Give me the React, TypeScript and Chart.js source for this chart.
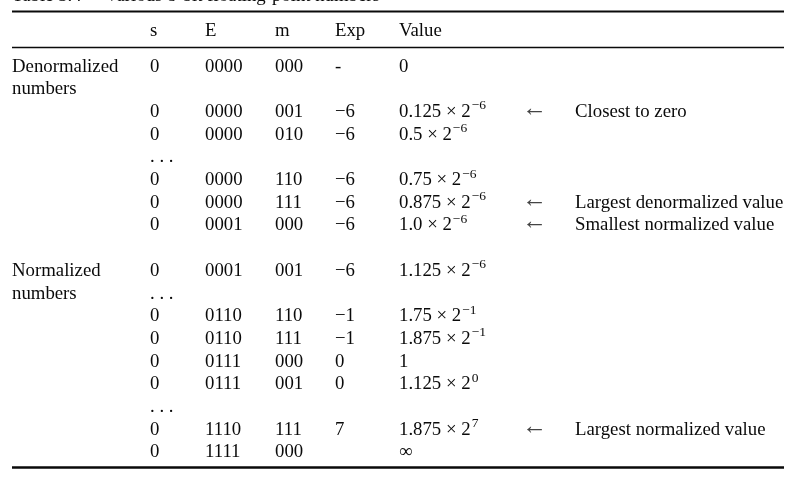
import React, { useEffect, useRef } from "react";
import { Chart, registerables } from "chart.js";

Chart.register(...registerables);

// ---------- table content ----------
const CAPTION_NUM = "Table 3.4";
const CAPTION_TEXT = "Various 8-bit floating-point numbers";
const HEADERS = ["", "s", "E", "m", "Exp", "Value", "", ""];

const GROUP_LABELS = [
  "Denormalized", "numbers", "", "", "", "", "", "", "",
  "Normalized", "numbers", "", "", "", "", "", "", "",
];
const SIGN_BITS = [
  "0", "", "0", "0", ". . .", "0", "0", "0", "",
  "0", ". . .", "0", "0", "0", "0", ". . .", "0", "0",
];
const EXP_BITS = [
  "0000", "", "0000", "0000", "", "0000", "0000", "0001", "",
  "0001", "", "0110", "0110", "0111", "0111", "", "1110", "1111",
];
const MANT_BITS = [
  "000", "", "001", "010", "", "110", "111", "000", "",
  "001", "", "110", "111", "000", "001", "", "111", "000",
];
const EXPONENTS = [
  "-", "", "\u22126", "\u22126", "", "\u22126", "\u22126", "\u22126", "",
  "\u22126", "", "\u22121", "\u22121", "0", "0", "", "7", "",
];
const VALUE_BASE = [
  "0", "", "0.125 \u00d7 2", "0.5 \u00d7 2", "", "0.75 \u00d7 2", "0.875 \u00d7 2", "1.0 \u00d7 2", "",
  "1.125 \u00d7 2", "", "1.75 \u00d7 2", "1.875 \u00d7 2", "1", "1.125 \u00d7 2", "", "1.875 \u00d7 2", "\u221e",
];
const VALUE_POWER = [
  "", "", "\u22126", "\u22126", "", "\u22126", "\u22126", "\u22126", "",
  "\u22126", "", "\u22121", "\u22121", "", "0", "", "7", "",
];
const ARROWS = [
  "", "", "\u2190", "", "", "", "\u2190", "\u2190", "",
  "", "", "", "", "", "", "", "\u2190", "",
];
const NOTES = [
  "", "", "Closest to zero", "", "", "", "Largest denormalized value", "Smallest normalized value", "",
  "", "", "", "", "", "", "", "Largest normalized value", "",
];

// ---------- layout (scale units) ----------
const FONT = '"Liberation Serif", "Times New Roman", "DejaVu Serif", serif';
const FONT_SIZE = 18.8;
const SUP_SIZE = 13.5;
const SUP_RAISE = 7.5;
const ARROW_SIZE = 25;
const ARROW_DROP = -1;
const ARROW_COLOR = "#444";
const TEXT_COLOR = "#0a0a0a";
const COL_X = [12, 150, 205, 275, 335, 399, 522, 575];
const RULE_X0 = 12;
const RULE_X1 = 784;
const ROW_STEP_PX = 22.7;
const FIRST_BASELINE_PX = 71.5;
const Y_MIN = -FIRST_BASELINE_PX / ROW_STEP_PX;
const Y_MAX = Y_MIN + 480 / ROW_STEP_PX;
const CAPTION_ROW = -3.1;
const HEADER_ROW = -1.564;
const TOP_RULE_ROW = -2.643;
const MID_RULE_ROW = -1.057;
const BOTTOM_RULE_ROW = 17.445;
const CAPTION_TEXT_X = 105;

const COLUMNS = [GROUP_LABELS, SIGN_BITS, EXP_BITS, MANT_BITS, EXPONENTS, VALUE_BASE, ARROWS, NOTES];

const tablePlugin = {
  id: "tableText",
  afterDraw(chart: any) {
    const { ctx } = chart;
    const xs = chart.scales.x;
    const ys = chart.scales.y;
    const font = (s: number) => `${s}px ${FONT}`;
    ctx.save();
    ctx.fillStyle = TEXT_COLOR;
    ctx.strokeStyle = TEXT_COLOR;
    ctx.textAlign = "left";
    ctx.textBaseline = "alphabetic";
    ctx.font = font(FONT_SIZE);

    // caption (mostly cut off at the top)
    const cy = ys.getPixelForValue(CAPTION_ROW);
    ctx.fillText(CAPTION_NUM, xs.getPixelForValue(COL_X[0]), cy);
    ctx.fillText(CAPTION_TEXT, xs.getPixelForValue(CAPTION_TEXT_X), cy);

    // rules
    const rule = (row: number, w: number) => {
      const py = ys.getPixelForValue(row);
      ctx.lineWidth = w;
      ctx.beginPath();
      ctx.moveTo(xs.getPixelForValue(RULE_X0), py);
      ctx.lineTo(xs.getPixelForValue(RULE_X1), py);
      ctx.stroke();
    };
    rule(TOP_RULE_ROW, 2.2);
    rule(MID_RULE_ROW, 1.6);
    rule(BOTTOM_RULE_ROW, 2.6);

    // header
    const hy = ys.getPixelForValue(HEADER_ROW);
    HEADERS.forEach((h, c) => {
      if (h) ctx.fillText(h, xs.getPixelForValue(COL_X[c]), hy);
    });

    // body
    COLUMNS.forEach((col, c) => {
      col.forEach((txt, r) => {
        if (!txt) return;
        const px = xs.getPixelForValue(COL_X[c]);
        const py = ys.getPixelForValue(r);
        if (c === 6) {
          ctx.font = font(ARROW_SIZE);
          ctx.fillStyle = ARROW_COLOR;
          ctx.fillText(txt, px, py + ARROW_DROP);
          ctx.fillStyle = TEXT_COLOR;
          return;
        }
        ctx.font = font(FONT_SIZE);
        ctx.fillText(txt, px, py);
        if (c === 5 && VALUE_POWER[r]) {
          const w = ctx.measureText(txt).width;
          ctx.font = font(SUP_SIZE);
          ctx.fillText(VALUE_POWER[r], px + w + 1, py - SUP_RAISE);
        }
      });
    });
    ctx.restore();
  },
};

export default function App() {
  const ref = useRef<HTMLCanvasElement | null>(null);
  useEffect(() => {
    if (!ref.current) return;
    const cells = COLUMNS.flatMap((col, c) =>
      col.map((t, r) => (t ? { x: COL_X[c], y: r } : null)).filter(Boolean)
    );
    const chart = new Chart(ref.current, {
      type: "scatter",
      data: {
        datasets: [
          { data: cells as any, pointRadius: 0, pointHoverRadius: 0, borderWidth: 0 },
        ],
      },
      options: {
        responsive: false,
        maintainAspectRatio: false,
        animation: false,
        events: [],
        layout: { padding: 0 },
        plugins: { legend: { display: false }, tooltip: { enabled: false } },
        scales: {
          x: { type: "linear", display: false, min: 0, max: 794 },
          y: { type: "linear", display: false, reverse: true, min: Y_MIN, max: Y_MAX },
        },
      },
      plugins: [tablePlugin],
    });
    return () => chart.destroy();
  }, []);
  return (
    <div style={{ position: "fixed", left: 0, top: 0, width: 794, height: 480, background: "#fff" }}>
      <canvas ref={ref} width={794} height={480} style={{ display: "block" }} />
    </div>
  );
}
